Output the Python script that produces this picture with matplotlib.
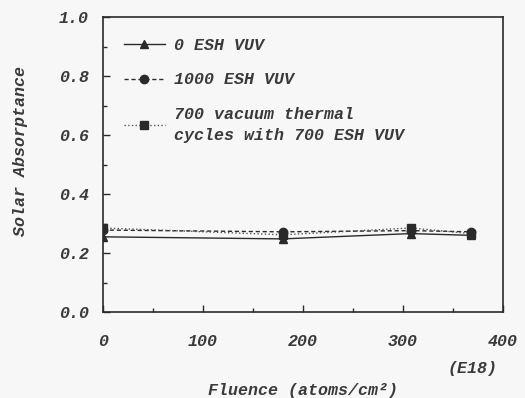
import matplotlib.pyplot as plt
from matplotlib.ticker import MultipleLocator

fluence = [0, 180, 308, 368]
zero_vuv = [0.255, 0.248, 0.266, 0.260]
vuv_1000 = [0.278, 0.272, 0.276, 0.272]
thermal_vuv = [0.285, 0.262, 0.285, 0.266]

labels = ['0 ESH VUV', '1000 ESH VUV',
          '700 vacuum thermal\ncycles with 700 ESH VUV']

plt.rcParams['font.family'] = 'Liberation Mono'
plt.rcParams['font.style'] = 'italic'
plt.rcParams['font.weight'] = 'bold'

bg = '#f7f7f7'
ink = '#2a2a2a'
txt = '#3a3a3a'

fig = plt.figure(figsize=(5.25, 3.98), dpi=100, facecolor=bg)
ax = fig.add_axes([0.196, 0.216, 0.762, 0.741], facecolor=bg)

ax.plot(fluence, zero_vuv, '-', color=ink, lw=1.0, marker='^', ms=6, label=labels[0])
ax.plot(fluence, vuv_1000, '--', color=ink, lw=1.0, marker='o', ms=6,
        dashes=(3, 2), label=labels[1])
ax.plot(fluence, thermal_vuv, ':', color='#555555', lw=1.0, marker='s', ms=6,
        mfc=ink, mec=ink, label=labels[2])

ax.set_xlim(0, 400)
ax.set_ylim(0, 1.0)
ax.xaxis.set_major_locator(MultipleLocator(100))
ax.xaxis.set_minor_locator(MultipleLocator(50))
ax.yaxis.set_major_locator(MultipleLocator(0.2))
ax.yaxis.set_minor_locator(MultipleLocator(0.1))
ax.set_yticklabels([f'{v:.1f}' for v in ax.get_yticks()])

ax.tick_params(which='both', direction='in', top=False, right=False,
               colors=ink, labelsize=12, labelcolor=txt)
ax.tick_params(which='major', length=5, width=1)
ax.tick_params(which='minor', length=3, width=1)
ax.tick_params(axis='x', pad=16)
ax.tick_params(axis='y', pad=10)
for s in ax.spines.values():
    s.set_color(ink)
    s.set_linewidth(1.2)

leg = ax.legend(loc='upper left', frameon=False, fontsize=12, handlelength=2.5,
                handletextpad=0.5, labelspacing=1.15, borderaxespad=0.6,
                bbox_to_anchor=(0.01, 0.985))
for t in leg.get_texts():
    t.set_color(txt)
    t.set_linespacing(1.5)

fig.text(0.9, 0.075, '(E18)', fontsize=12, ha='center', va='center', color=txt)
fig.text(0.577, 0.02, 'Fluence (atoms/cm²)', fontsize=12, ha='center',
         va='center', color=txt)
fig.text(0.04, 0.62, 'Solar Absorptance', fontsize=12, ha='center',
         va='center', rotation=90, color=txt)

fig.savefig('out.png', dpi=100, facecolor=bg)
